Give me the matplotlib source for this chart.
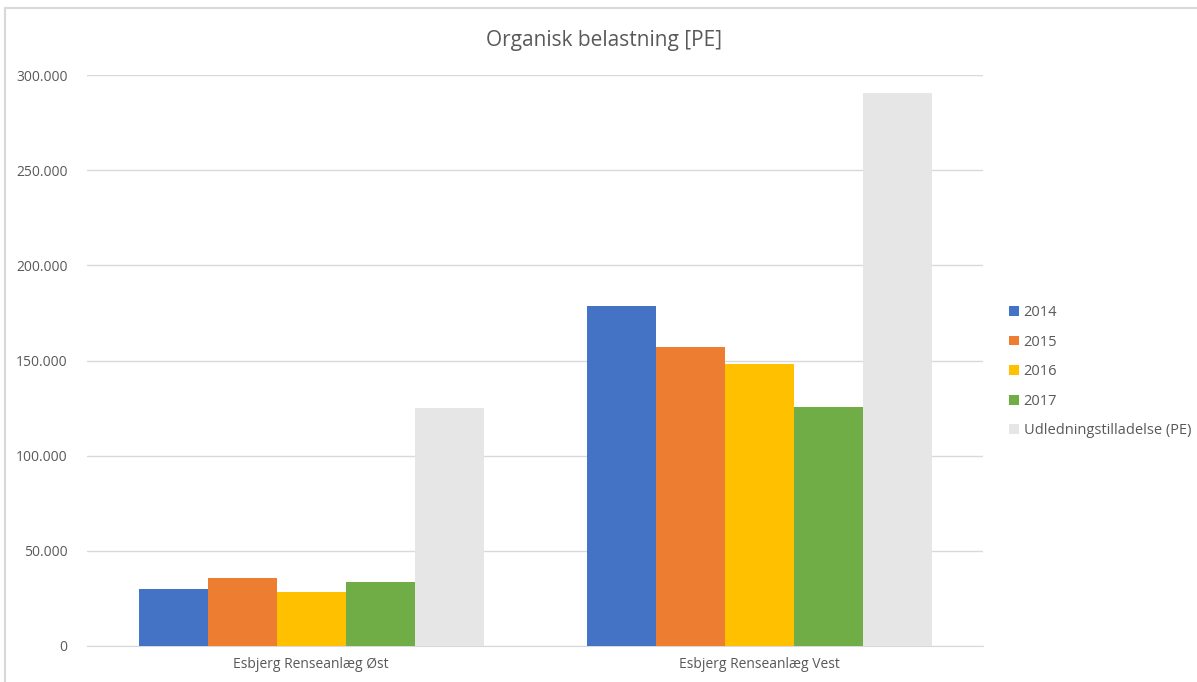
import matplotlib.pyplot as plt
import numpy as np
from matplotlib.lines import Line2D
from matplotlib.ticker import FuncFormatter

plt.rcParams["font.family"] = ["Open Sans", "DejaVu Sans"]

# Organic load per treatment plant, person equivalents
plants = ["Esbjerg Renseanlæg Øst", "Esbjerg Renseanlæg Vest"]
series = ["2014", "2015", "2016", "2017", "Udledningstilladelse (PE)"]
load_2014 = [29700, 178400]
load_2015 = [35600, 157000]
load_2016 = [28300, 148300]
load_2017 = [33400, 125800]
permit = [125100, 290400]
values = [load_2014, load_2015, load_2016, load_2017, permit]
colors = ["#4472C4", "#ED7D31", "#FFC000", "#70AD47", "#E6E6E6"]

fig = plt.figure(figsize=(11.97, 6.82), dpi=100)
ax = fig.add_axes([0.0727, 0.0528, 0.7486, 0.8372])

x = np.arange(len(plants))
width = 0.154
for i, (name, vals, col) in enumerate(zip(series, values, colors)):
    offset = (i - 2) * width
    ax.bar(x + offset, vals, width, color=col, label=name, zorder=3)

ax.set_xlim(-0.5, 1.5)
ax.set_ylim(0, 300000)
ax.set_yticks(np.arange(0, 300001, 50000))
ax.yaxis.set_major_formatter(
    FuncFormatter(lambda v, p: f"{int(v):,}".replace(",", ".")))
ax.set_xticks(x)
ax.set_xticklabels(plants)

ax.grid(axis="y", color="#D9D9D9", linewidth=1, zorder=0)
for side in ["top", "right", "left"]:
    ax.spines[side].set_visible(False)
ax.spines["bottom"].set_color("#D9D9D9")
ax.tick_params(axis="both", length=0, colors="#595959", labelsize=10)
ax.tick_params(axis="y", pad=14)
ax.tick_params(axis="x", pad=8)

fig.text(0.505, 0.94, "Organisk belastning [PE]", fontsize=15,
         color="#595959", ha="center", va="center")

leg = fig.legend(loc="center left", bbox_to_anchor=(0.832, 0.455),
                 frameon=False, fontsize=10.5, handlelength=0.65,
                 handleheight=0.65, handletextpad=0.35, labelspacing=1.0,
                 labelcolor="#595959")

# light outer frame along the top and left edge of the chart area
fig.add_artist(Line2D([0.0045, 1.0], [0.9885, 0.9885], transform=fig.transFigure,
                      color="#D9D9D9", linewidth=1.5))
fig.add_artist(Line2D([0.0045, 0.0045], [0.0, 0.9885], transform=fig.transFigure,
                      color="#D9D9D9", linewidth=1.5))

fig.savefig("out.png", dpi=100)
